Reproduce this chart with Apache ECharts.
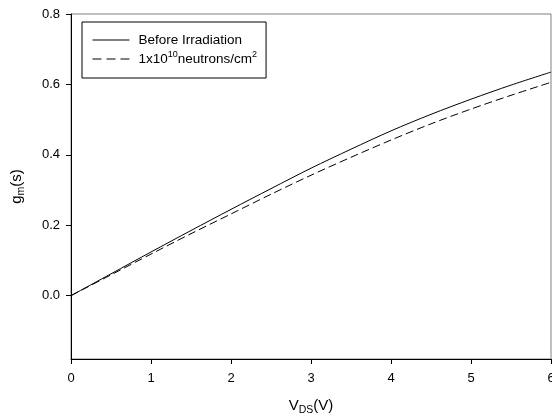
<!DOCTYPE html>
<html><head><meta charset="utf-8">
<script src="https://cdn.jsdelivr.net/npm/echarts@6/dist/echarts.min.js"></script>
<style>html,body{margin:0;padding:0;background:#fff}#c{width:552px;height:419px}</style>
</head><body><div id="c"></div>
<script>
var vds = [0, 0.5, 1, 1.5, 2, 2.5, 3, 3.5, 4, 4.5, 5, 5.5, 6];
var gmBefore = [0, 0.062, 0.124, 0.185, 0.245, 0.304, 0.362, 0.416, 0.468, 0.515, 0.558, 0.598, 0.635];
var gmAfter = [0, 0.059, 0.118, 0.176, 0.232, 0.288, 0.342, 0.393, 0.442, 0.488, 0.530, 0.569, 0.606];
var yTicks = [0, 0.2, 0.4, 0.6, 0.8];
var seriesNames = ['Before Irradiation', '1x10^10neutrons/cm^2'];

function pairs(xs, ys){ return xs.map(function(x,i){ return [x, ys[i]]; }); }
var font = 'Liberation Sans, Arial, sans-serif';
var chart = echarts.init(document.getElementById('c'));
chart.setOption({
  animation: false,
  backgroundColor: '#fff',
  textStyle: {fontFamily: font},
  grid: {left: 71, top: 14, right: 1, bottom: 60, show: true, borderColor: '#808080', borderWidth: 1,
         containLabel: false, outerBoundsMode: 'none'},
  legend: {
    orient: 'vertical', left: 82, top: 22,
    padding: [9, 9, 10, 10], itemGap: 1, itemWidth: 37, itemHeight: 14,
    borderColor: '#000', borderWidth: 1, backgroundColor: '#fff',
    itemStyle: {opacity: 0},
    lineStyle: {width: 1},
    data: [{name: seriesNames[0]}, {name: seriesNames[1], lineStyle: {type: [9, 5], width: 1}}],
    formatter: function(n){ return n === seriesNames[1] ? '1x10{sup|10}neutrons/cm{sup|2}' : n; },
    textStyle: {fontFamily: font, fontSize: 13.5, color: '#000', lineHeight: 18, padding: [0,0,0,4],
      rich: {sup: {fontSize: 9, lineHeight: 11, verticalAlign: 'top', fontFamily: font, color:'#000'}}}
  },
  xAxis: {
    type: 'value', min: 0, max: 6, interval: 1,
    name: 'V{sub|DS}(V)', nameLocation: 'middle', nameGap: 37,
    nameTextStyle: {fontFamily: font, fontSize: 15, color: '#000', lineHeight: 20,
      rich: {sub: {fontSize: 10.5, lineHeight: 12, verticalAlign: 'bottom', fontFamily: font, color: '#000'}}},
    axisLine: {onZero: false, lineStyle: {color: '#000', width: 1}},
    axisTick: {show: true, length: 5, lineStyle: {color: '#000'}},
    axisLabel: {fontFamily: font, fontSize: 13, color: '#000', margin: 13},
    splitLine: {show: false}
  },
  yAxis: {
    type: 'value', min: -0.18, max: 0.8,
    name: 'g{sub|m}(s)', nameLocation: 'middle', nameRotate: 90, nameGap: 44,
    nameTextStyle: {fontFamily: font, fontSize: 15, color: '#000', lineHeight: 20,
      rich: {sub: {fontSize: 10.5, lineHeight: 12, verticalAlign: 'bottom', fontFamily: font, color: '#000'}}},
    axisLine: {show: true, onZero: false, lineStyle: {color: '#000', width: 1}},
    axisTick: {show: true, length: 5, customValues: yTicks, lineStyle: {color: '#000'}},
    axisLabel: {fontFamily: font, fontSize: 13, color: '#000', margin: 11, customValues: yTicks,
      formatter: function(v){ return v.toFixed(1); }},
    splitLine: {show: false}
  },
  series: [
    {name: seriesNames[0], type: 'line', data: pairs(vds, gmBefore), smooth: 0.3, showSymbol: false, symbol: 'none',
     lineStyle: {color: '#000', width: 1}, itemStyle: {color: '#000'}},
    {name: seriesNames[1], type: 'line', data: pairs(vds, gmAfter), smooth: 0.3, showSymbol: false, symbol: 'none',
     lineStyle: {color: '#000', width: 1, type: [8, 4]}, itemStyle: {color: '#000'}}
  ]
});
</script></body></html>
